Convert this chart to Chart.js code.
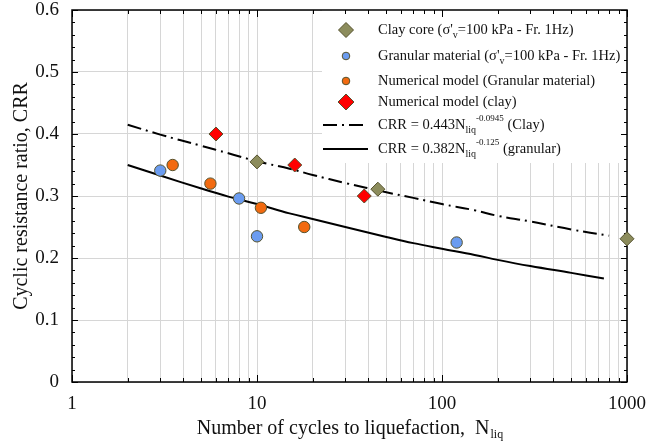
<!DOCTYPE html>
<html>
<head>
<meta charset="utf-8">
<script src="https://cdn.jsdelivr.net/npm/chart.js@4.4.0/dist/chart.umd.min.js"></script>
<style>body{margin:0;background:#fff}</style>
</head>
<body>
<canvas id="myChart" width="663" height="442"></canvas>
<script>
// measured points
const clayCoreN = [10, 45, 1000];
const clayCoreCRR = [0.355, 0.311, 0.231];
const granularN = [3, 8, 10, 120];
const granularCRR = [0.341, 0.296, 0.235, 0.225];
const numGranN = [3.5, 5.6, 10.5, 18];
const numGranCRR = [0.35, 0.32, 0.281, 0.25];
const numClayN = [6, 16, 38];
const numClayCRR = [0.4, 0.35, 0.3];

// fitted curves
const clayFitN = [2, 3, 5, 7, 10, 15, 20, 30, 50, 70, 100, 150, 200, 300, 500, 800];
const clayFitCRR = [0.415, 0.399, 0.381, 0.369, 0.356, 0.344, 0.334, 0.321, 0.306, 0.297, 0.287, 0.277, 0.268, 0.259, 0.246, 0.236];
const granFitN = [2, 3, 5, 7, 10, 15, 20, 30, 50, 70, 100, 150, 200, 300, 500, 750];
const granFitCRR = [0.350, 0.333, 0.312, 0.299, 0.287, 0.272, 0.263, 0.250, 0.234, 0.224, 0.215, 0.205, 0.197, 0.187, 0.176, 0.167];

const xTickLabels = [1, 10, 100, 1000];
const yTicks = [0, 0.1, 0.2, 0.3, 0.4, 0.5, 0.6];

const serif = "'Liberation Serif', 'Times New Roman', serif";
const edge = "#55522e";

function pts(xs, ys) {
  return xs.map((x, i) => ({ x: x, y: ys[i] }));
}

// all log positions 1..1000
const logTicks = [];
for (let d = 1; d < 1000; d *= 10) {
  for (let k = 1; k < 10; k++) logTicks.push(k * d);
}
logTicks.push(1000);

function drawRich(g, parts, x, y) {
  let cx = x;
  parts.forEach(([t, kind]) => {
    let dy = 0;
    if (kind === "sub") { g.font = "10px " + serif; dy = 5; }
    else if (kind === "sup") { g.font = "9px " + serif; dy = -6; }
    else g.font = "14.5px " + serif;
    g.fillText(t, cx, y + dy);
    cx += g.measureText(t).width;
  });
}

function diamond(g, x, y, r, fill) {
  g.beginPath();
  g.moveTo(x, y - r); g.lineTo(x + r, y); g.lineTo(x, y + r); g.lineTo(x - r, y);
  g.closePath();
  g.fillStyle = fill; g.fill();
  g.strokeStyle = edge; g.lineWidth = 1; g.stroke();
}
function dot(g, x, y, r, fill) {
  g.beginPath();
  g.arc(x, y, r, 0, Math.PI * 2);
  g.fillStyle = fill; g.fill();
  g.strokeStyle = edge; g.lineWidth = 1; g.stroke();
}

const decor = {
  id: "decor",
  beforeDatasetsDraw(chart) {
    const g = chart.ctx;
    const a = chart.chartArea;
    const xs = chart.scales.x, ys = chart.scales.y;
    g.save();
    // legend box
    g.fillStyle = "#fff";
    g.fillRect(322, a.top, a.right - 322, 153);
    const lx = 346, tx = 378;
    const rows = [30, 56, 81, 102, 125, 149];
    diamond(g, lx, rows[0], 7.5, "#8c8c5c");
    dot(g, lx, rows[1], 3.8, "#6b9cf0");
    dot(g, lx, rows[2], 3.8, "#f26a10");
    diamond(g, lx, rows[3], 8, "#ff0000");
    g.strokeStyle = "#000"; g.lineWidth = 2;
    g.setLineDash([14, 5, 2, 5]);
    g.beginPath(); g.moveTo(323, rows[4]); g.lineTo(368, rows[4]); g.stroke();
    g.setLineDash([]);
    g.beginPath(); g.moveTo(323, rows[5]); g.lineTo(368, rows[5]); g.stroke();
    g.fillStyle = "#111";
    g.textBaseline = "middle";
    g.textAlign = "left";
    drawRich(g, [["Clay core (\u03c3'", "n"], ["v", "sub"], ["=100 kPa - Fr. 1Hz)", "n"]], tx, rows[0]);
    drawRich(g, [["Granular material (\u03c3'", "n"], ["v", "sub"], ["=100 kPa - Fr. 1Hz)", "n"]], tx, rows[1]);
    drawRich(g, [["Numerical model (Granular material)", "n"]], tx, rows[2]);
    drawRich(g, [["Numerical model (clay)", "n"]], tx, rows[3]);
    drawRich(g, [["CRR = 0.443N", "n"], ["liq", "sub"], ["-0.0945", "sup"], [" (Clay)", "n"]], tx, rows[4]);
    drawRich(g, [["CRR = 0.382N", "n"], ["liq", "sub"], ["-0.125", "sup"], [" (granular)", "n"]], tx, rows[5]);

    // frame
    g.strokeStyle = "#000";
    g.lineWidth = 1.5;
    g.beginPath();
    g.rect(a.left, a.top, a.right - a.left, a.bottom - a.top);
    g.stroke();
    // inward ticks
    g.lineWidth = 1;
    g.beginPath();
    for (let i = 0; i <= 30; i++) {
      const y = Math.round(ys.getPixelForValue(i * 0.02)) + 0.5;
      const len = i % 5 === 0 ? 6 : 3;
      g.moveTo(a.left, y); g.lineTo(a.left + len, y);
      g.moveTo(a.right, y); g.lineTo(a.right - len, y);
    }
    logTicks.forEach(v => {
      const x = Math.round(xs.getPixelForValue(v)) + 0.5;
      const len = xTickLabels.includes(v) ? 7 : 4;
      g.moveTo(x, a.bottom); g.lineTo(x, a.bottom - len);
      g.moveTo(x, a.top); g.lineTo(x, a.top + len);
    });
    g.stroke();

    // axis titles
    g.fillStyle = "#111";
    g.textAlign = "center";
    g.textBaseline = "middle";
    g.font = "20px " + serif;
    g.save();
    g.translate(22, (a.top + a.bottom) / 2);
    g.rotate(-Math.PI / 2);
    g.fillText("Cyclic resistance ratio, CRR", 0, 0);
    g.restore();
    g.textAlign = "left";
    g.textBaseline = "alphabetic";
    const main = "Number of cycles to liquefaction,  N";
    g.font = "20px " + serif;
    const w = g.measureText(main).width;
    g.font = "12px " + serif;
    const ws = g.measureText("liq").width;
    const x0 = (a.left + a.right) / 2 - (w + ws) / 2;
    g.font = "20px " + serif;
    g.fillText(main, x0, 434);
    g.font = "12px " + serif;
    g.fillText("liq", x0 + w + 1, 438);
    g.restore();
  }
};

const ctx = document.getElementById("myChart");

new Chart(ctx, {
  type: "scatter",
  data: {
    datasets: [
      {
        label: "Clay core",
        data: pts(clayCoreN, clayCoreCRR),
        pointStyle: "rectRot",
        pointRadius: 7,
        backgroundColor: "#8c8c5c",
        borderColor: edge,
        borderWidth: 1,
        clip: false,
        order: 0,
      },
      {
        label: "Granular material",
        data: pts(granularN, granularCRR),
        pointRadius: 5.7,
        backgroundColor: "#6b9cf0",
        borderColor: edge,
        borderWidth: 1,
        order: 0,
      },
      {
        label: "Numerical model (Granular material)",
        data: pts(numGranN, numGranCRR),
        pointRadius: 5.7,
        backgroundColor: "#f26a10",
        borderColor: edge,
        borderWidth: 1,
        order: 0,
      },
      {
        label: "Numerical model (clay)",
        data: pts(numClayN, numClayCRR),
        pointStyle: "rectRot",
        pointRadius: 7,
        backgroundColor: "#ff0000",
        borderColor: edge,
        borderWidth: 1,
        order: 0,
      },
      {
        label: "Clay fit",
        data: pts(clayFitN, clayFitCRR),
        showLine: true,
        pointRadius: 0,
        borderColor: "#000",
        borderWidth: 2,
        borderDash: [14, 5, 2, 5],
        tension: 0.4,
        order: 1,
      },
      {
        label: "Granular fit",
        data: pts(granFitN, granFitCRR),
        showLine: true,
        pointRadius: 0,
        borderColor: "#000",
        borderWidth: 2,
        tension: 0.4,
        order: 1,
      },
    ],
  },
  options: {
    responsive: false,
    animation: false,
    layout: { padding: { top: 10, right: 36, left: 0, bottom: 0 } },
    plugins: {
      legend: { display: false },
      tooltip: { enabled: false },
    },
    scales: {
      x: {
        type: "logarithmic",
        min: 1,
        max: 1000,
        afterBuildTicks: (s) => { s.ticks = logTicks.map(v => ({ value: v })); },
        afterFit: (s) => { s.height = 60; s.paddingLeft = 0; s.paddingRight = 0; },
        border: { display: false },
        grid: { color: "#d6d6d6", drawTicks: false },
        ticks: {
          autoSkip: false,
          maxRotation: 0,
          padding: 11,
          color: "#111",
          font: { family: serif, size: 19 },
          callback: (v) => (xTickLabels.includes(v) ? String(v) : ""),
        },
      },
      y: {
        min: 0,
        max: 0.6,
        afterBuildTicks: (s) => { s.ticks = yTicks.map(v => ({ value: v })); },
        afterFit: (s) => { s.width = 72; s.paddingTop = 0; s.paddingBottom = 0; },
        border: { display: false },
        grid: { color: "#d6d6d6", drawTicks: false },
        ticks: {
          padding: 13,
          color: "#111",
          font: { family: serif, size: 19 },
          callback: (v) => (v === 0 ? "0" : v.toFixed(1)),
        },
      },
    },
  },
  plugins: [decor],
});
</script>
</body>
</html>
